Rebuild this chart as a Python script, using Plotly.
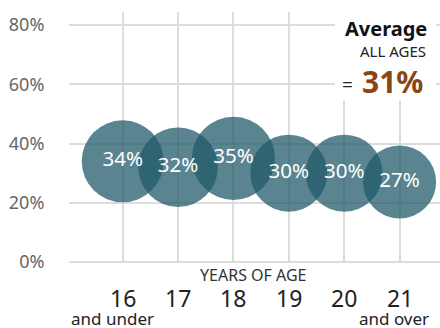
import plotly.graph_objects as go

ages = [16, 17, 18, 19, 20, 21]
age_labels = ["16", "17", "18", "19", "20", "21"]
values = [34, 32, 35, 30, 30, 27]
y_ticks = [0, 20, 40, 60, 80]
average = 31

FONT = "Noto Sans"
W, H = 440, 328
ML, MR, MT, MB = 69, 0, 12, 66
PW, PH = W - ML - MR, H - MT - MB

def px_x(p):
    return (p - ML) / PW

def px_y(p):
    return (H - MB - p) / PH

fig = go.Figure()
fig.add_trace(go.Scatter(
    x=ages, y=values, mode="markers+text",
    text=[f"{v}%" for v in values],
    textposition="middle center",
    textfont=dict(family=FONT, size=20.5, color="white"),
    marker=dict(size=values, sizemode="area", sizeref=2 * 34 / 82 ** 2,
                color="rgb(32,91,105)", opacity=0.74, line=dict(width=0)),
    hoverinfo="skip", showlegend=False, cliponaxis=False,
))

fig.update_layout(
    width=W, height=H, margin=dict(l=ML, r=MR, t=MT, b=MB),
    paper_bgcolor="white", plot_bgcolor="white",
    xaxis=dict(range=[15.03, 21.73], tickvals=ages, showticklabels=False,
               showgrid=True, gridcolor="#dcdcdc", gridwidth=2, zeroline=False,
               showline=False, ticks=""),
    yaxis=dict(range=[0, 84.4], tickvals=y_ticks, ticktext=[f"{t}%" for t in y_ticks],
               showgrid=True, gridcolor="#dcdcdc", gridwidth=2,
               zeroline=True, zerolinecolor="#dcdcdc", zerolinewidth=2,
               showline=False, ticks="outside", ticklen=20, tickcolor="rgba(0,0,0,0)",
               tickfont=dict(family=FONT, size=18, color="#666666")),
)

fig.add_shape(type="rect", xref="paper", yref="paper",
              x0=px_x(335), x1=px_x(436), y0=px_y(101), y1=1.05,
              fillcolor="white", line=dict(width=0), layer="above")

ann = []
ann.append(dict(text="<b>Average</b>", x=px_x(429), y=px_y(29), xanchor="right", yanchor="middle",
                font=dict(family=FONT, size=20, color="#111111")))
ann.append(dict(text="ALL AGES", x=px_x(428), y=px_y(51), xanchor="right", yanchor="middle",
                font=dict(family=FONT, size=15, color="#222222")))
ann.append(dict(text=f"<b>{average}%</b>", x=px_x(425), y=px_y(81), xanchor="right", yanchor="middle",
                font=dict(family=FONT, size=30, color="#8B4513")))
ann.append(dict(text="=", x=px_x(347), y=px_y(85), xanchor="center", yanchor="middle",
                font=dict(family=FONT, size=19, color="#222222")))
ann.append(dict(text="YEARS OF AGE", x=px_x(253), y=px_y(275), xanchor="center", yanchor="middle",
                font=dict(family=FONT, size=16, color="#333333")))
for a, lab in zip(ages, age_labels):
    ann.append(dict(text=lab, x=a, xref="x", y=px_y(297.5), xanchor="center", yanchor="middle",
                    font=dict(family=FONT, size=23, color="#222222")))
ann.append(dict(text="and under", x=px_x(112.5), y=px_y(318.5), xanchor="center", yanchor="middle",
                font=dict(family=FONT, size=17, color="#222222")))
ann.append(dict(text="and over", x=px_x(393.5), y=px_y(318.5), xanchor="center", yanchor="middle",
                font=dict(family=FONT, size=17, color="#222222")))
for d in ann:
    d.setdefault("xref", "paper")
    d["yref"] = "paper"
    d["showarrow"] = False
    fig.add_annotation(**d)

fig.write_html("out.html")
